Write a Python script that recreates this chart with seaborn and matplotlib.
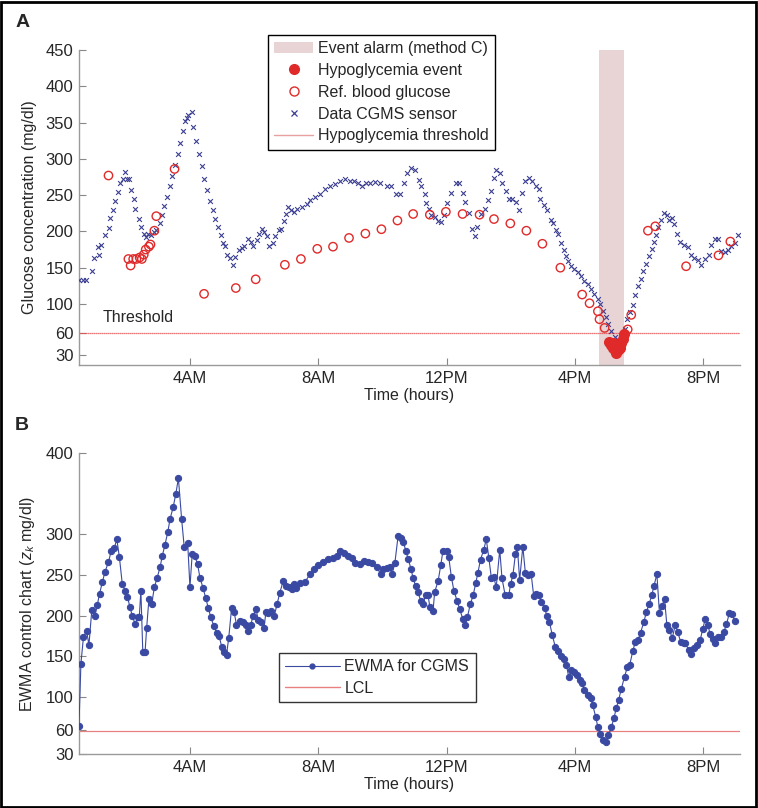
import matplotlib
matplotlib.use('Agg')
import matplotlib.pyplot as plt
import pandas as pd
import seaborn as sns
from matplotlib.lines import Line2D
from matplotlib.patches import Patch, Rectangle

# --- data ---
tick_hours = [4, 8, 12, 16, 20]
tick_labels = ['4AM', '8AM', '12PM', '4PM', '8PM']
top_yticks = [30, 60, 100, 150, 200, 250, 300, 350, 400, 450]
bottom_yticks = [30, 60, 100, 150, 200, 250, 300, 400]

cgms_hours = [0.55, 0.65, 0.75, 0.95, 1.0, 1.12, 1.15, 1.24, 1.36, 1.48,
              1.51, 1.6, 1.66, 1.76, 1.82, 1.9, 1.98, 2.04, 2.1, 2.15,
              2.25, 2.3, 2.4, 2.48, 2.58, 2.62, 2.68, 2.78, 2.88, 2.95,
              3.06, 3.13, 3.2, 3.28, 3.39, 3.44, 3.54, 3.62, 3.69, 3.77,
              3.85, 3.9, 3.95, 4.05, 4.1, 4.2, 4.28, 4.39, 4.45, 4.54,
              4.62, 4.73, 4.78, 4.88, 4.96, 5.02, 5.1, 5.15, 5.26, 5.33,
              5.42, 5.53, 5.63, 5.7, 5.8, 5.9, 5.98, 6.1, 6.15, 6.25,
              6.3, 6.4, 6.48, 6.58, 6.64, 6.77, 6.83, 6.92, 6.99, 7.07,
              7.15, 7.24, 7.35, 7.48, 7.64, 7.74, 7.9, 8.05, 8.2, 8.36,
              8.51, 8.67, 8.82, 8.98, 9.13, 9.23, 9.37, 9.5, 9.61, 9.78,
              9.92, 10.13, 10.28, 10.44, 10.54, 10.68, 10.78, 10.9, 11.01, 11.14,
              11.22, 11.32, 11.37, 11.46, 11.53, 11.63, 11.74, 11.84, 11.91, 12.02,
              12.15, 12.29, 12.38, 12.51, 12.57, 12.69, 12.8, 12.88, 12.95, 13.07,
              13.2, 13.3, 13.38, 13.48, 13.55, 13.66, 13.73, 13.84, 13.95, 14.05,
              14.18, 14.25, 14.36, 14.46, 14.57, 14.67, 14.78, 14.88, 14.93, 15.03,
              15.13, 15.25, 15.33, 15.4, 15.48, 15.58, 15.65, 15.74, 15.8, 15.89,
              15.99, 16.09, 16.2, 16.3, 16.4, 16.51, 16.6, 16.72, 16.8, 16.88,
              16.96, 17.03, 17.14, 17.24, 17.34, 17.44, 17.55, 17.63, 17.71, 17.81,
              17.88, 17.97, 18.07, 18.14, 18.23, 18.31, 18.41, 18.46, 18.52, 18.59,
              18.69, 18.77, 18.88, 18.95, 19.02, 19.1, 19.18, 19.28, 19.39, 19.52,
              19.63, 19.73, 19.84, 19.94, 20.05, 20.18, 20.25, 20.36, 20.46, 20.57,
              20.67, 20.77, 20.88, 20.98, 21.1]
cgms_values = [133, 133, 133, 146, 164, 179, 167, 181, 195, 205,
               219, 230, 242, 254, 267, 272, 282, 272, 272, 257,
               245, 231, 217, 206, 197, 192, 197, 195, 199, 202,
               212, 222, 235, 248, 262, 276, 291, 307, 322, 339,
               352, 356, 361, 364, 344, 324, 307, 290, 272, 257,
               242, 230, 217, 206, 195, 184, 180, 167, 163, 154,
               165, 175, 177, 180, 189, 185, 180, 188, 197, 203,
               199, 193, 180, 184, 193, 202, 203, 214, 224, 234,
               230, 227, 231, 234, 238, 243, 248, 252, 258, 262,
               265, 269, 272, 270, 270, 267, 263, 266, 267, 268,
               266, 262, 262, 251, 251, 266, 280, 287, 284, 271,
               262, 251, 239, 231, 222, 220, 215, 213, 222, 239,
               253, 267, 267, 253, 240, 226, 203, 193, 206, 224,
               231, 243, 256, 273, 285, 280, 267, 256, 244, 244,
               240, 229, 253, 269, 274, 269, 262, 259, 245, 236,
               230, 216, 211, 202, 196, 184, 175, 166, 159, 153,
               148, 144, 139, 132, 128, 121, 114, 107, 100, 91,
               82, 73, 63, 54, 50, 54, 66, 80, 89, 99,
               112, 125, 135, 146, 155, 166, 176, 185, 195, 206,
               216, 225, 223, 216, 218, 210, 197, 186, 181, 178,
               168, 164, 160, 154, 162, 168, 181, 189, 189, 173,
               171, 175, 180, 184, 195]

ref_hours = [1.46, 2.08, 2.15, 2.23, 2.33, 2.43, 2.5, 2.56, 2.62, 2.72,
             2.77, 2.89, 2.95, 3.52, 4.44, 5.43, 6.05, 6.96, 7.46, 7.97,
             8.46, 8.96, 9.47, 9.97, 10.47, 10.96, 11.48, 11.98, 12.5, 13.03,
             13.48, 13.99, 14.49, 14.99, 15.55, 16.23, 16.46, 16.72, 16.77, 16.93,
             17.65, 17.76, 18.28, 18.51, 19.47, 20.48, 20.85]
ref_values = [277, 162, 153, 162, 162, 164, 162, 168, 175, 179,
              182, 201, 221, 286, 114, 122, 134, 154, 162, 176,
              179, 191, 197, 203, 215, 224, 223, 227, 224, 223,
              217, 211, 201, 183, 150, 113, 101, 90, 79, 67,
              65, 85, 201, 207, 152, 167, 186]

event_hours = [17.08, 17.13, 17.2, 17.25, 17.3, 17.35, 17.4, 17.45, 17.5, 17.52, 17.18, 17.3]
event_values = [48, 43, 40, 36, 33, 36, 40, 46, 52, 58, 46, 39]

alarm_start, alarm_end = 16.74, 17.52
threshold = 60
lcl = 58

ewma_hours = [0.54, 0.6, 0.68, 0.78, 0.85, 0.94, 1.04, 1.11, 1.18, 1.27,
              1.35, 1.46, 1.54, 1.64, 1.72, 1.8, 1.89, 1.98, 2.05, 2.13,
              2.2, 2.29, 2.37, 2.42, 2.47, 2.53, 2.6, 2.65, 2.72, 2.81,
              2.89, 2.98, 3.07, 3.14, 3.22, 3.31, 3.38, 3.48, 3.56, 3.64,
              3.74, 3.82, 3.93, 4.0, 4.07, 4.15, 4.24, 4.31, 4.41, 4.49,
              4.57, 4.65, 4.75, 4.83, 4.91, 4.99, 5.06, 5.14, 5.21, 5.3,
              5.38, 5.45, 5.56, 5.66, 5.74, 5.8, 5.89, 5.97, 6.06, 6.13,
              6.21, 6.31, 6.37, 6.44, 6.54, 6.63, 6.72, 6.8, 6.91, 6.98,
              7.08, 7.17, 7.24, 7.32, 7.43, 7.58, 7.74, 7.87, 8.0, 8.15,
              8.31, 8.46, 8.57, 8.67, 8.81, 8.93, 9.06, 9.14, 9.3, 9.43,
              9.56, 9.68, 9.82, 9.95, 10.02, 10.13, 10.23, 10.3, 10.39, 10.49,
              10.57, 10.65, 10.73, 10.8, 10.89, 10.96, 11.04, 11.11, 11.2, 11.27,
              11.35, 11.42, 11.48, 11.58, 11.63, 11.74, 11.82, 11.89, 12.0, 12.07,
              12.15, 12.23, 12.33, 12.41, 12.51, 12.59, 12.65, 12.74, 12.83, 12.91,
              12.98, 13.06, 13.16, 13.24, 13.32, 13.4, 13.47, 13.55, 13.66, 13.73,
              13.83, 13.94, 14.0, 14.07, 14.15, 14.21, 14.28, 14.38, 14.46, 14.54,
              14.64, 14.72, 14.8, 14.88, 14.96, 15.06, 15.13, 15.21, 15.3, 15.39,
              15.47, 15.56, 15.65, 15.74, 15.81, 15.89, 15.99, 16.08, 16.15, 16.23,
              16.3, 16.41, 16.49, 16.56, 16.65, 16.72, 16.8, 16.88, 16.96, 17.05,
              17.14, 17.22, 17.29, 17.37, 17.45, 17.55, 17.64, 17.71, 17.81, 17.89,
              17.97, 18.05, 18.15, 18.23, 18.31, 18.4, 18.47, 18.56, 18.64, 18.71,
              18.8, 18.87, 18.95, 19.04, 19.13, 19.21, 19.3, 19.39, 19.45, 19.55,
              19.63, 19.73, 19.82, 19.91, 19.99, 20.07, 20.15, 20.22, 20.3, 20.38,
              20.48, 20.56, 20.65, 20.73, 20.82, 20.9, 20.98]
ewma_values = [65, 141, 174, 181, 164, 207, 200, 213, 227, 241,
               254, 266, 279, 283, 294, 272, 239, 231, 223, 211,
               200, 190, 198, 198, 231, 155, 155, 185, 220, 215,
               235, 247, 260, 274, 287, 303, 319, 334, 350, 369,
               319, 285, 289, 235, 276, 274, 263, 247, 234, 222,
               210, 198, 187, 179, 175, 162, 155, 152, 173, 210,
               204, 189, 194, 192, 188, 181, 188, 200, 208, 195,
               192, 185, 205, 203, 206, 200, 215, 228, 243, 236,
               235, 233, 239, 234, 240, 241, 251, 257, 262, 266,
               270, 271, 273, 279, 277, 273, 271, 265, 264, 267,
               266, 265, 260, 251, 258, 259, 260, 251, 265, 298,
               296, 291, 280, 270, 258, 246, 236, 229, 218, 215,
               226, 226, 211, 206, 229, 243, 262, 280, 279, 272,
               248, 231, 218, 208, 196, 189, 198, 214, 225, 240,
               253, 269, 281, 294, 271, 246, 248, 235, 281, 246,
               225, 225, 239, 250, 276, 284, 244, 285, 252, 250,
               251, 224, 227, 225, 217, 209, 200, 192, 176, 162,
               157, 151, 147, 139, 125, 133, 131, 127, 121, 117,
               109, 102, 99, 90, 76, 63, 55, 47, 45, 53,
               63, 74, 86, 97, 110, 125, 137, 139, 157, 168,
               170, 179, 192, 204, 214, 225, 237, 251, 203, 212,
               220, 189, 182, 173, 188, 180, 168, 166, 166, 158,
               153, 160, 164, 170, 184, 196, 189, 177, 172, 166,
               174, 174, 180, 190, 203, 202, 194]

cgms = pd.DataFrame({'hour': cgms_hours, 'glucose': cgms_values})
ref = pd.DataFrame({'hour': ref_hours, 'glucose': ref_values})
events = pd.DataFrame({'hour': event_hours, 'glucose': event_values})
ewma = pd.DataFrame({'hour': ewma_hours, 'z': ewma_values})

# --- style ---
sns.set_style('ticks')
plt.rcParams['font.family'] = ['Liberation Sans', 'DejaVu Sans']
plt.rcParams['mathtext.fontset'] = 'custom'
plt.rcParams['mathtext.rm'] = 'Liberation Sans'
plt.rcParams['mathtext.it'] = 'Liberation Sans:italic'

blue = '#3c3f92'
ewma_blue = '#3a4aa3'
red = '#e02a2a'
alarm_col = '#e8d4d4'
thr_col = '#e5484a'
xlim = (0.54, 21.15)

fig = plt.figure(figsize=(7.58, 8.08), dpi=100)
ax1 = fig.add_axes([0.1042, 0.5483, 0.872, 0.3899])
ax2 = fig.add_axes([0.1042, 0.0668, 0.872, 0.3725])


def style_axis(ax, yticks, ylim):
    ax.set_xlim(*xlim)
    ax.set_ylim(*ylim)
    ax.set_xticks(tick_hours)
    ax.set_xticklabels(tick_labels)
    ax.set_yticks(yticks)
    ax.tick_params(direction='in', length=5, width=0.8, color='#888888',
                   labelsize=12, pad=4)
    for side in ['top', 'right']:
        ax.spines[side].set_visible(False)
    for side in ['left', 'bottom']:
        ax.spines[side].set_color('#9a9a9a')
        ax.spines[side].set_linewidth(1.0)
    ax.set_xlabel('Time (hours)', fontsize=11.5, labelpad=2)


# panel A
ax1.axvspan(alarm_start, alarm_end, color=alarm_col, lw=0, zorder=0)
ax1.axhline(threshold, color=thr_col, lw=0.9, ls=(0, (1, 0.6)), zorder=1)
sns.scatterplot(data=cgms, x='hour', y='glucose', ax=ax1, marker='x', s=12,
                color=blue, linewidth=0.8, zorder=3)
sns.scatterplot(data=ref, x='hour', y='glucose', ax=ax1, marker='o', s=36,
                facecolor='none', edgecolor=red, linewidth=1.0, zorder=4)
sns.scatterplot(data=events, x='hour', y='glucose', ax=ax1, marker='o', s=64,
                color=red, edgecolor=red, linewidth=0, zorder=5)
style_axis(ax1, top_yticks, (16, 450))
ax1.set_ylabel('Glucose concentration (mg/dl)', fontsize=11.5, labelpad=6)
ax1.text(1.29, 81, 'Threshold', fontsize=11.5, va='center', ha='left')

handles1 = [
    Patch(facecolor=alarm_col, edgecolor='none'),
    Line2D([], [], ls='none', marker='o', ms=7, color=red),
    Line2D([], [], ls='none', marker='o', ms=6.5, mfc='none', mec=red, mew=1.0),
    Line2D([], [], ls='none', marker='x', ms=4, color=blue, mew=0.9),
    Line2D([], [], color='#e9a0a0', lw=1.0),
]
labels1 = ['Event alarm (method C)', 'Hypoglycemia event', 'Ref. blood glucose',
           'Data CGMS sensor', 'Hypoglycemia threshold']
leg1 = ax1.legend(handles1, labels1, loc='upper left',
                  bbox_to_anchor=(0.3536, 0.9567), bbox_transform=fig.transFigure,
                  fontsize=11.5, frameon=True, fancybox=False, borderaxespad=0,
                  handlelength=2.4, handletextpad=0.3, labelspacing=0.42,
                  borderpad=0.4)
leg1.get_frame().set_edgecolor('black')
leg1.get_frame().set_linewidth(1.0)
leg1.get_frame().set_alpha(1)
leg1.set_zorder(10)

# panel B
ax2.axhline(lcl, color='#e88080', lw=0.9, zorder=1)
sns.lineplot(data=ewma, x='hour', y='z', ax=ax2, color=ewma_blue, lw=0.8,
             marker='o', markersize=4.5, markeredgecolor=ewma_blue,
             estimator=None, sort=False, zorder=3)
style_axis(ax2, bottom_yticks, (30, 400))
ax2.set_ylabel('EWMA control chart ($z_k$ mg/dl)', fontsize=11.5, labelpad=6)

handles2 = [
    Line2D([], [], color=ewma_blue, lw=0.8, marker='o', ms=3.5),
    Line2D([], [], color='#e88080', lw=1.0),
]
leg2 = ax2.legend(handles2, ['EWMA for CGMS', 'LCL'], loc='upper left',
                  bbox_to_anchor=(0.368, 0.1918), bbox_transform=fig.transFigure,
                  fontsize=11.5, frameon=True, fancybox=False, borderaxespad=0,
                  handlelength=3.4, handletextpad=0.3, labelspacing=0.4,
                  borderpad=0.4)
leg2.get_frame().set_edgecolor('black')
leg2.get_frame().set_linewidth(1.0)

fig.text(0.02, 0.972, 'A', fontsize=14, fontweight='bold', va='center')
fig.text(0.02, 0.474, 'B', fontsize=14, fontweight='bold', va='center')
fig.add_artist(Rectangle((0.001, 0.001), 0.997, 0.997, transform=fig.transFigure,
                         fill=False, edgecolor='black', linewidth=2))

fig.savefig('out.png', dpi=100)
